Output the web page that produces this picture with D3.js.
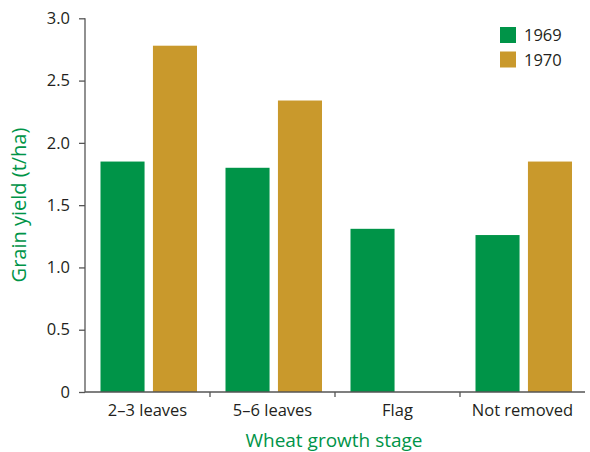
<!DOCTYPE html>
<html><head><meta charset="utf-8">
<script src="https://cdn.jsdelivr.net/npm/d3@7"></script>
<style>body{margin:0;background:#fff}svg{display:block}</style>
</head><body><svg id="c" width="590" height="452"></svg>
<script>
const stages = ["2–3 leaves", "5–6 leaves", "Flag", "Not removed"];
const years = ["1969", "1970"];
const yield1969 = [1.85, 1.80, 1.31, 1.26];
const yield1970 = [2.78, 2.34, null, 1.85];
const yTicks = [0, 0.5, 1.0, 1.5, 2.0, 2.5, 3.0];
const colors = ["#009448", "#c9992c"];

const svg = d3.select("#c");
const x0 = 85, x1 = 585, yTop = 18.3, yBot = 392;
const font = "'Open Sans', 'Noto Sans', sans-serif";
const textCol = "#231f20";

const x = d3.scaleBand().domain(stages).range([x0, x1]).paddingInner(0).paddingOuter(0);
const xs = d3.scaleBand().domain(years).range([15.5, 112]).paddingInner(0.16);
const y = d3.scaleLinear().domain([0, 3]).range([yBot, yTop]);

const series = [yield1969, yield1970];
series.forEach((vals, si) => {
  svg.append("g").selectAll("rect")
    .data(stages.map((s, i) => ({s, v: vals[i]})).filter(d => d.v != null))
    .join("rect")
    .attr("x", d => x(d.s) + xs(years[si]))
    .attr("width", xs.bandwidth())
    .attr("y", d => y(d.v))
    .attr("height", d => y(0) - y(d.v))
    .attr("fill", colors[si]);
});

// y axis
const ya = svg.append("g").attr("transform", `translate(${x0},0)`)
  .call(d3.axisLeft(y).tickValues(yTicks).tickSize(6).tickPadding(9)
    .tickFormat(d => d === 0 ? "0" : d3.format(".1f")(d)));
ya.select(".domain").attr("d", `M0,${yTop}V${yBot}`).attr("stroke", "#555").attr("stroke-width", 1.3);
ya.selectAll(".tick line").attr("stroke", "#555").attr("stroke-width", 1.3);
ya.selectAll(".tick text").attr("font-family", font).attr("font-size", 16.5).attr("fill", textCol);

// x axis
const xa = svg.append("g").attr("transform", `translate(0,${yBot})`)
  .call(d3.axisBottom(x).tickSize(0).tickPadding(12));
xa.select(".domain").attr("d", `M${x0},0H${x1}`).attr("stroke", "#555").attr("stroke-width", 1.3);
xa.selectAll(".tick text").attr("font-family", font).attr("font-size", 16.5).attr("fill", textCol);
xa.selectAll(".sep").data(stages.slice(1)).join("line")
  .attr("x1", d => x(d)).attr("x2", d => x(d)).attr("y1", 0).attr("y2", 5)
  .attr("stroke", "#555").attr("stroke-width", 1.3);

// axis titles
svg.append("text").attr("x", 334).attr("y", 447).attr("text-anchor", "middle")
  .attr("font-family", font).attr("font-size", 19).attr("fill", "#009448").text("Wheat growth stage");
svg.append("text").attr("transform", "translate(26,205) rotate(-90)").attr("text-anchor", "middle")
  .attr("font-family", font).attr("font-size", 20).attr("fill", "#009448").text("Grain yield (t/ha)");

// legend
const lg = svg.append("g").attr("transform", "translate(500,27)");
years.forEach((yr, i) => {
  lg.append("rect").attr("x", 0).attr("y", i * 24.5).attr("width", 16).attr("height", 16).attr("fill", colors[i]);
  lg.append("text").attr("x", 24).attr("y", i * 24.5 + 14).attr("font-family", font)
    .attr("font-size", 16.5).attr("fill", textCol).text(yr);
});
</script></body></html>
